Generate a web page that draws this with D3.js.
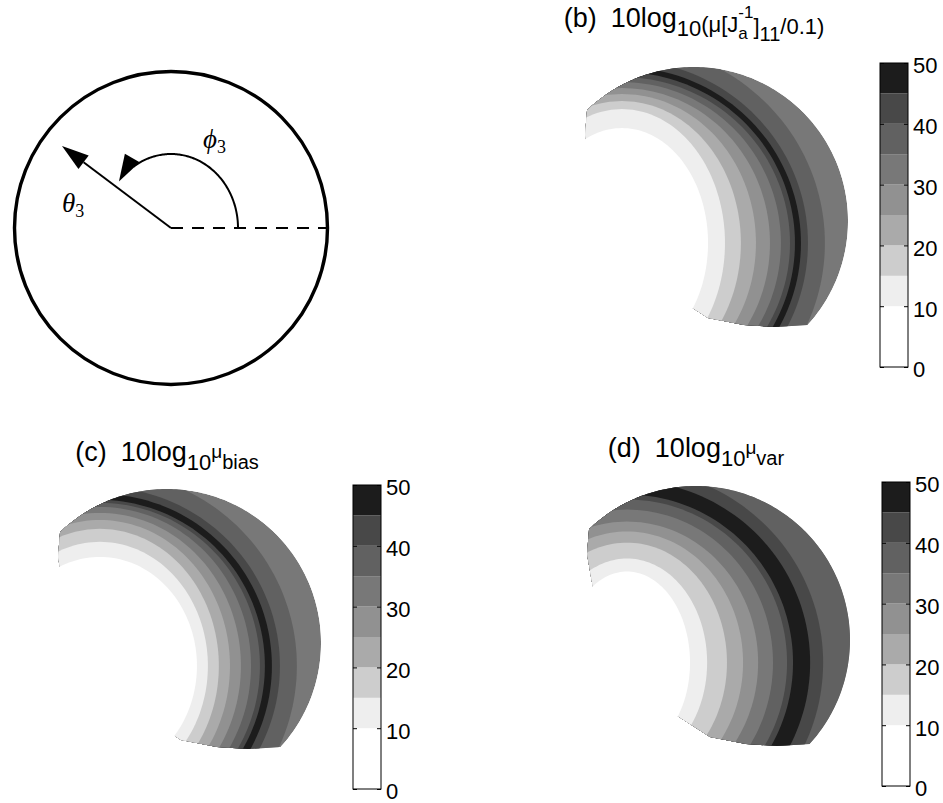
<!DOCTYPE html>
<html>
<head>
<meta charset="utf-8">
<script src="https://cdn.jsdelivr.net/npm/d3@7"></script>
<style>
  html, body { margin: 0; padding: 0; background: #fff; }
  svg { display: block; }
</style>
</head>
<body>
<svg id="fig" width="943" height="803"></svg>
<script>
// ---- colour map: 10 grey bands of 5 dB between 0 and 50 ----
const colorLevels = [0, 5, 10, 15, 20, 25, 30, 35, 40, 45, 50];
const grayShades  = [255, 255, 238, 205, 170, 145, 120, 97, 72, 28];
const colorbarTicks = [0, 10, 20, 30, 40, 50];

// ---- iso-contours, listed from the rim inward (dB) ----
// the ridge is crossed twice, so 45/40/35 appear on both sides of it
const boundaryLevels = [35, 40, 45, 45, 40, 35, 30, 25, 20, 15, 10];
const rimBand = 32.5;               // value band between the outer contour and the rim

// contour shapes in the (theta3, phi3) plane, rim of the disc = 90 deg
// panel (b)
const focusB = [-42.1, -12.9];
const rxB = [118.6, 108.7, 104.6, 101.1, 98.2, 92.9, 86.5, 78.3, 69.5, 60.2, 50.3];
const ryB = [116.3, 107.0, 102.9,  99.9, 97.0, 94.1, 90.6, 87.1, 83.0, 78.3, 67.2];
// panel (c)
const focusC = [-39.2, -13.4];
const rxC = [115.1, 105.2, 100.5, 96.4, 93.5, 88.3, 82.4, 76.0, 69.5, 63.1, 56.7];
const ryC = [114.0, 104.6, 100.5, 97.0, 95.3, 92.9, 89.4, 85.3, 80.1, 72.5, 63.7];
// panel (d)
const focusD = [-40.3, -13.2];
const rxD = [133.3, 114.6, 107.0, 97.0, 93.5, 85.3, 76.6, 67.8, 58.4, 46.8, 36.8];
const ryD = [132.1, 113.4, 106.4, 98.2, 95.3, 89.4, 82.4, 76.6, 70.1, 60.8, 53.2];

// lower-left edge of the computed region (same for every panel)
const cutEdge = [[-62.5, 64.9], [-63.7, 50.3], [-59.0, 23.4], [-47.3, -7.6], [-31.0, -27.5],
                 [-11.7, -43.8], [8.2, -56.7], [29.2, -60.8], [47.3, -62.0], [66.6, -60.8]];
const rimTheta = 90;

const svg = d3.select("#fig");
svg.append("rect").attr("width", 943).attr("height", 803).attr("fill", "#fff");

const grayScale = d3.scaleThreshold()
  .domain(colorLevels.slice(1, -1))
  .range(grayShades.map(v => d3.rgb(v, v, v).formatHex()));

const SANS = "'Liberation Sans', Arial, Helvetica, sans-serif";
const SERIF = "'Liberation Serif', 'DejaVu Serif', serif";

// ---------------------------------------------------------------
// (a) sketch of the angles theta3 / phi3 on the disc
// ---------------------------------------------------------------
(function drawSketch() {
  const cx = 171, cy = 228, R = 156.5;
  const g = svg.append("g");
  g.append("circle").attr("cx", cx).attr("cy", cy).attr("r", R)
    .attr("fill", "none").attr("stroke", "#000").attr("stroke-width", 3.4);
  // dashed reference direction phi3 = 0
  g.append("line").attr("x1", cx).attr("y1", cy).attr("x2", cx + R).attr("y2", cy)
    .attr("stroke", "#000").attr("stroke-width", 2).attr("stroke-dasharray", "12,9");

  function arrowHead(tip, dir, len, half) {
    const n = Math.hypot(dir[0], dir[1]);
    const u = [dir[0] / n, dir[1] / n], p = [-u[1], u[0]];
    const b = [tip[0] - u[0] * len, tip[1] - u[1] * len];
    g.append("path")
      .attr("d", d3.line()([tip, [b[0] + p[0] * half, b[1] + p[1] * half], [b[0] - p[0] * half, b[1] - p[1] * half]]) + "Z")
      .attr("fill", "#000");
    return b;
  }
  // theta3 arrow
  const tip = [62, 146];
  const base = arrowHead(tip, [tip[0] - cx, tip[1] - cy], 27, 8.5);
  g.append("line").attr("x1", cx).attr("y1", cy).attr("x2", base[0]).attr("y2", base[1])
    .attr("stroke", "#000").attr("stroke-width", 2);
  // phi3 arc
  const ax = 67, ay = 74;
  const t1 = 124, tEnd = 141;
  const arcPts = d3.range(0, t1 + 0.5, 1).map(t => {
    const a = t * Math.PI / 180;
    return [cx + ax * Math.cos(a), cy - ay * Math.sin(a)];
  });
  g.append("path").attr("d", d3.line()(arcPts))
    .attr("fill", "none").attr("stroke", "#000").attr("stroke-width", 2);
  const ae = tEnd * Math.PI / 180;
  arrowHead([cx + ax * Math.cos(ae), cy - ay * Math.sin(ae)],
            [-ax * Math.sin(ae + 0.12), -ay * Math.cos(ae + 0.12)], 27, 8.5);

  const lab = (x, y, sym) => {
    const t = g.append("text").attr("x", x).attr("y", y)
      .attr("font-family", SERIF).attr("font-size", 27);
    t.append("tspan").attr("font-style", "italic").text(sym);
    t.append("tspan").attr("font-size", 18).attr("dy", 5).text("3");
  };
  lab(203, 148, "\u03D5");
  lab(62, 212, "\u03B8");
})();

// ---------------------------------------------------------------
// (b)-(d) iso-band maps with colour bars
// ---------------------------------------------------------------
const panels = [
  { id: "b", focus: focusB, rx: rxB, ry: ryB, cx: 694, cy: 221,
    bar: { x: 880, top: 63, bottom: 367 }, titleY: 27,
    title: [
      { t: "(b)" },
      { t: "10log", dx: 14 },
      { t: "10", size: 22, dy: 9 },
      { t: "(\u03BC[J", size: 22, dy: -4 },
      { t: "a", size: 17, dy: 7 },
      { t: "-1", size: 17, dy: -21, back: 9.5 },
      { t: "]", size: 22, dy: 16 },
      { t: "11", size: 20, dy: 7 },
      { t: "/0.1)", size: 22, dy: -7 }
    ] },
  { id: "c", focus: focusC, rx: rxC, ry: ryC, cx: 167, cy: 643,
    bar: { x: 353, top: 485, bottom: 789 }, titleY: 461,
    title: [
      { t: "(c)" },
      { t: "10log", dx: 14 },
      { t: "10", size: 22, dy: 9 },
      { t: "\u03BC", size: 19, dy: -12 },
      { t: "bias", size: 20, dy: 11 }
    ] },
  { id: "d", focus: focusD, rx: rxD, ry: ryD, cx: 696, cy: 640,
    bar: { x: 882, top: 482, bottom: 786 }, titleY: 457,
    title: [
      { t: "(d)" },
      { t: "10log", dx: 14 },
      { t: "10", size: 22, dy: 9 },
      { t: "\u03BC", size: 19, dy: -12 },
      { t: "var", size: 20, dy: 11 }
    ] }
];

const RPX = 154;           // rim radius in pixels
const ridgeIndex = boundaryLevels.indexOf(45);

panels.forEach(p => {
  const x = d3.scaleLinear().domain([-rimTheta, rimTheta]).range([p.cx - RPX, p.cx + RPX]);
  const y = d3.scaleLinear().domain([-rimTheta, rimTheta]).range([p.cy + RPX, p.cy - RPX]);
  const line = d3.line().x(d => x(d[0])).y(d => y(d[1]));

  // outline of the computed region: rim arc + lower-left edge
  const first = cutEdge[0], last = cutEdge[cutEdge.length - 1];
  const aStart = Math.atan2(last[1], last[0]) * 180 / Math.PI;
  const aEnd = Math.atan2(first[1], first[0]) * 180 / Math.PI;
  const rim = d3.range(aStart, aEnd, 1).concat([aEnd]).map(a => {
    const t = a * Math.PI / 180;
    return [rimTheta * Math.cos(t), rimTheta * Math.sin(t)];
  });
  const outline = rim.concat(cutEdge);

  const clipId = "clip-" + p.id;
  svg.append("clipPath").attr("id", clipId)
    .append("path").attr("d", line(outline) + "Z");

  const bands = boundaryLevels.map((lev, i) => ({
    level: lev,
    rx: p.rx[i],
    ry: p.ry[i],
    inside: i <= ridgeIndex ? lev + 2.5 : lev - 2.5
  }));
  const contourPath = d => line(d3.range(0, 360, 2).map(a => {
    const t = a * Math.PI / 180;
    return [p.focus[0] + d.rx * Math.cos(t), p.focus[1] + d.ry * Math.sin(t)];
  })) + "Z";

  const g = svg.append("g").attr("clip-path", `url(#${clipId})`);
  g.append("path").attr("d", line(outline) + "Z").attr("fill", grayScale(rimBand));
  const shaded = bands.filter(d => grayScale(d.inside) !== "#ffffff");
  const blank = bands.filter(d => grayScale(d.inside) === "#ffffff");
  g.selectAll("path.band").data(shaded).join("path").attr("class", "band")
    .attr("d", contourPath).attr("fill", d => grayScale(d.inside));
  // the lowest band is paper white, drawn over the region edge as well
  svg.append("g").selectAll("path").data(blank).join("path")
    .attr("d", contourPath).attr("fill", "#ffffff");

  // colour bar
  const bw = 28;
  const cb = d3.scaleLinear().domain([0, 50]).range([p.bar.bottom, p.bar.top]);
  const bg = svg.append("g");
  const cells = d3.pairs(colorLevels);
  bg.selectAll("rect.cell").data(cells).join("rect").attr("class", "cell")
    .attr("x", p.bar.x).attr("width", bw)
    .attr("y", d => cb(d[1])).attr("height", d => cb(d[0]) - cb(d[1]))
    .attr("fill", d => grayScale((d[0] + d[1]) / 2));
  bg.append("rect").attr("x", p.bar.x).attr("y", p.bar.top)
    .attr("width", bw).attr("height", p.bar.bottom - p.bar.top)
    .attr("fill", "none").attr("stroke", "#000").attr("stroke-width", 1);

  const right = bg.append("g").attr("transform", `translate(${p.bar.x + bw},0)`)
    .call(d3.axisRight(cb).tickValues(colorbarTicks).tickSize(-4).tickPadding(5));
  right.select(".domain").remove();
  right.selectAll("text").attr("font-family", SANS).attr("font-size", 22).attr("fill", "#000")
    .attr("dy", "0.45em");
  const left = bg.append("g").attr("transform", `translate(${p.bar.x},0)`)
    .call(d3.axisLeft(cb).tickValues(colorbarTicks).tickSize(-4).tickFormat(""));
  left.select(".domain").remove();

  // title
  const tt = svg.append("text").attr("x", p.cx).attr("y", p.titleY)
    .attr("text-anchor", "middle").attr("font-family", SANS).attr("font-size", 27).attr("fill", "#000");
  p.title.forEach(s => {
    const ts = tt.append("tspan").text(s.t);
    if (s.size) ts.attr("font-size", s.size);
    if (s.dy) ts.attr("dy", s.dy);
    if (s.dx) ts.attr("dx", s.dx);
    if (s.back) ts.attr("dx", -s.back);
  });
});
</script>
</body>
</html>
